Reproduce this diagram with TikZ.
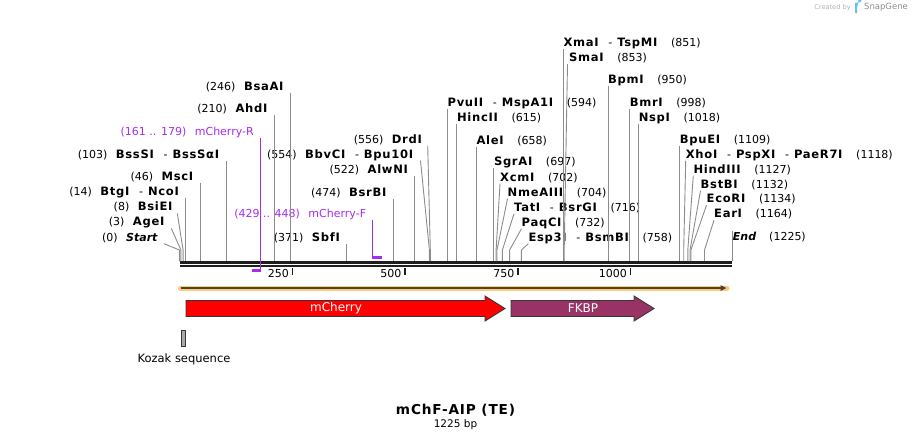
\documentclass[tikz,border=0pt]{standalone}
\usepackage{fontspec}
\setmainfont{DejaVu Sans}[BoldFeatures={Scale=1.05, LetterSpace=6}]
\usetikzlibrary{arrows.meta}
\definecolor{cutgray}{RGB}{140,140,140}
\definecolor{bbcol}{RGB}{30,30,30}
\definecolor{primercol}{RGB}{165,45,235}
\definecolor{orangel}{RGB}{250,202,125}
\definecolor{orangedk}{RGB}{80,66,45}
\definecolor{mchred}{RGB}{255,0,0}
\definecolor{fkbpcol}{RGB}{153,51,102}
\definecolor{featline}{RGB}{55,55,55}
\definecolor{kozakgray}{RGB}{165,170,177}
\definecolor{snapblue}{RGB}{100,195,235}
\newcommand{\dsh}{\hspace{9pt}-\hspace{5pt}}
\newcommand{\nsp}{\hspace{8.5pt}}
\newcommand{\rsp}{\hspace{13pt}}
\tikzset{
  enz/.style={inner sep=0pt, font=\fontsize{11}{13}\selectfont, text height=8.5pt, text depth=2.5pt},
  enzl/.style={enz, anchor=east},
  enzr/.style={enz, anchor=west},
  cutline/.style={draw=cutgray, line width=0.9pt},
  primer/.style={draw=primercol, line width=1.3pt},
  primerbar/.style={draw=primercol, line width=2.6pt},
  tickmark/.style={draw=bbcol, line width=1.5pt},
  ticklbl/.style={inner sep=0pt, anchor=east, font=\fontsize{11}{13}\selectfont},
  feature/.style={draw=featline, line width=0.9pt, line join=miter},
  featlbl/.style={text=white, font=\fontsize{12}{14}\selectfont}
}
\begin{document}
\begin{tikzpicture}[x=1pt, y=-1pt]
  \useasboundingbox (0,0) rectangle (912,440);

  \draw[line width=2.6pt, bbcol] (179.5,262.2) -- (732,262.2);
  \draw[line width=2.2pt, bbcol] (179.5,266.3) -- (732,266.3);

  \draw[tickmark] (292.25,267.5) -- (292.25,275);
  \draw[tickmark] (405,267.5) -- (405,275);
  \draw[tickmark] (517.75,267.5) -- (517.75,275);
  \draw[tickmark] (630.5,267.5) -- (630.5,275);
  \node[ticklbl] (t250) at (289,273.5) {250};
  \node[ticklbl] (t500) at (401.5,273.5) {500};
  \node[ticklbl] (t750) at (514.5,273.5) {750};
  \node[ticklbl] (t1000) at (627,273.5) {1000};

  \coordinate (c0) at (179.5,261);
  \coordinate (c3) at (180.9,261);
  \coordinate (c8) at (183.1,261);
  \coordinate (c14) at (185.8,261);
  \coordinate (c46) at (200.2,261);
  \coordinate (c103) at (226.0,261);
  \coordinate (c210) at (274.2,261);
  \coordinate (c246) at (290.4,261);
  \coordinate (c371) at (346.8,261);
  \coordinate (c474) at (393.3,261);
  \coordinate (c522) at (414.9,261);
  \coordinate (c554) at (429.4,261);
  \coordinate (c556) at (430.3,261);
  \coordinate (c594) at (447.4,261);
  \coordinate (c615) at (456.9,261);
  \coordinate (c658) at (476.3,261);
  \coordinate (c697) at (493.8,261);
  \coordinate (c702) at (496.1,261);
  \coordinate (c704) at (497.0,261);
  \coordinate (c716) at (502.4,261);
  \coordinate (c732) at (509.6,261);
  \coordinate (c758) at (521.4,261);
  \coordinate (c851) at (563.3,261);
  \coordinate (c853) at (564.2,261);
  \coordinate (c950) at (608.0,261);
  \coordinate (c998) at (629.6,261);
  \coordinate (c1018) at (638.6,261);
  \coordinate (c1109) at (679.7,261);
  \coordinate (c1118) at (683.7,261);
  \coordinate (c1127) at (687.8,261);
  \coordinate (c1132) at (690.0,261);
  \coordinate (c1134) at (690.9,261);
  \coordinate (c1164) at (704.5,261);
  \coordinate (c1225) at (732.0,261);

  \node[enzl] (startlbl) at (158,238) {(0)\nsp\textbf{\textit{Start}}};
  \node[enzl] (agei) at (165.3,222.7) {(3)\nsp\textbf{AgeI}};
  \node[enzl] (bsiei) at (173.3,207.7) {(8)\nsp\textbf{BsiEI}};
  \node[enzl] (btgi) at (179.8,192.7) {(14)\nsp\textbf{BtgI}\dsh\textbf{NcoI}};
  \node[enzl] (msci) at (194.2,177.7) {(46)\nsp\textbf{MscI}};
  \node[enzl] (bsssi) at (220,155) {(103)\nsp\textbf{BssSI}\dsh\textbf{BssSαI}};
  \node[enzl, text=primercol] (mchr) at (254,132.5) {(161 .. 179)\nsp mCherry-R};
  \node[enzl] (ahdi) at (268.2,109.5) {(210)\nsp\textbf{AhdI}};
  \node[enzl] (bsaai) at (284.4,87.5) {(246)\nsp\textbf{BsaAI}};
  \node[enzl] (sbfi) at (340.8,238) {(371)\nsp\textbf{SbfI}};
  \node[enzl, text=primercol] (mchf) at (366.3,214.5) {(429 .. 448)\nsp mCherry-F};
  \node[enzl] (bsrbi) at (387.3,193) {(474)\nsp\textbf{BsrBI}};
  \node[enzl] (alwni) at (408.9,170.5) {(522)\nsp\textbf{AlwNI}};
  \node[enzl] (bbvci) at (414,155) {(554)\nsp\textbf{BbvCI}\dsh\textbf{Bpu10I}};
  \node[enzl] (drdi) at (422.7,140) {(556)\nsp\textbf{DrdI}};

  \node[enzr] (pvuii) at (447.4,103.3) {\textbf{PvuII}\dsh\textbf{MspA1I}\rsp(594)};
  \node[enzr] (hincii) at (456.9,118.3) {\textbf{HincII}\rsp(615)};
  \node[enzr] (alei) at (476.3,141) {\textbf{AleI}\rsp(658)};
  \node[enzr] (sgrai) at (493.8,162.7) {\textbf{SgrAI}\rsp(697)};
  \node[enzr] (xcmi) at (500,178) {\textbf{XcmI}\rsp(702)};
  \node[enzr] (nmeaiii) at (507.5,193) {\textbf{NmeAIII}\rsp(704)};
  \node[enzr] (tati) at (514,208) {\textbf{TatI}\dsh\textbf{BsrGI}\rsp(716)};
  \node[enzr] (paqci) at (521.5,223) {\textbf{PaqCI}\rsp(732)};
  \node[enzr] (esp3i) at (528.3,238) {\textbf{Esp3I}\dsh\textbf{BsmBI}\rsp(758)};
  \node[enzr] (xmai) at (563.3,43.3) {\textbf{XmaI}\dsh\textbf{TspMI}\rsp(851)};
  \node[enzr] (smai) at (569,58.3) {\textbf{SmaI}\rsp(853)};
  \node[enzr] (bpmi) at (608,80) {\textbf{BpmI}\rsp(950)};
  \node[enzr] (bmri) at (629.6,103.3) {\textbf{BmrI}\rsp(998)};
  \node[enzr] (nspi) at (638.6,118.3) {\textbf{NspI}\rsp(1018)};
  \node[enzr] (bpuei) at (679.7,140.5) {\textbf{BpuEI}\rsp(1109)};
  \node[enzr] (xhoi) at (685.7,155) {\textbf{XhoI}\dsh\textbf{PspXI}\dsh\textbf{PaeR7I}\rsp(1118)};
  \node[enzr] (hindiii) at (693.3,170) {\textbf{HindIII}\rsp(1127)};
  \node[enzr] (bstbi) at (700.5,185) {\textbf{BstBI}\rsp(1132)};
  \node[enzr] (ecori) at (706.5,199.5) {\textbf{EcoRI}\rsp(1134)};
  \node[enzr] (eari) at (714,214.5) {\textbf{EarI}\rsp(1164)};
  \node[enzr] (endlbl) at (732.7,237) {\textbf{\textit{End}}\rsp(1225)};

  \draw[cutline] ([xshift=6pt]startlbl.south east) -- ([yshift=11pt]c0) -- (c0);
  \draw[cutline] ([xshift=6pt]agei.south east) -- ([yshift=11pt]c3) -- (c3);
  \draw[cutline] ([xshift=4pt]bsiei.south east) -- ([yshift=11pt]c8) -- (c8);
  \draw[cutline] (btgi.south east -| c14) -- (c14);
  \draw[cutline] (msci.south east -| c46) -- (c46);
  \draw[cutline] (bsssi.south east -| c103) -- (c103);
  \draw[cutline] (ahdi.south east -| c210) -- (c210);
  \draw[cutline] (bsaai.south east -| c246) -- (c246);
  \draw[cutline] (sbfi.south east -| c371) -- (c371);
  \draw[cutline] (bsrbi.south east -| c474) -- (c474);
  \draw[cutline] (alwni.south east -| c522) -- (c522);
  \draw[cutline] ([xshift=6.5pt]bbvci.south east) -- ([yshift=11pt]c554) -- (c554);
  \draw[cutline] ([xshift=5pt]drdi.south east) -- ([yshift=11pt]c556) -- (c556);

  \draw[cutline] (pvuii.south west -| c594) -- (c594);
  \draw[cutline] (hincii.south west -| c615) -- (c615);
  \draw[cutline] (alei.south west -| c658) -- (c658);
  \draw[cutline] (sgrai.south west -| c697) -- (c697);
  \draw[cutline] (xcmi.south west) -- ([yshift=11pt]c702) -- (c702);
  \draw[cutline] (nmeaiii.south west) -- ([yshift=11pt]c704) -- (c704);
  \draw[cutline] (tati.south west) -- ([yshift=11pt]c716) -- (c716);
  \draw[cutline] (paqci.south west) -- ([yshift=11pt]c732) -- (c732);
  \draw[cutline] (esp3i.south west) -- ([yshift=11pt]c758) -- (c758);
  \draw[cutline] (xmai.south west -| c851) -- (c851);
  \draw[cutline] ([xshift=-1.5pt]smai.south west) -- ([yshift=11pt]c853) -- (c853);
  \draw[cutline] (bpmi.south west -| c950) -- (c950);
  \draw[cutline] (bmri.south west -| c998) -- (c998);
  \draw[cutline] (nspi.south west -| c1018) -- (c1018);
  \draw[cutline] (bpuei.south west -| c1109) -- (c1109);
  \draw[cutline] (xhoi.south west) -- ([yshift=11pt]c1118) -- (c1118);
  \draw[cutline] (hindiii.south west) -- ([yshift=11pt]c1127) -- (c1127);
  \draw[cutline] (bstbi.south west) -- ([yshift=11pt]c1132) -- (c1132);
  \draw[cutline] (ecori.south west) -- ([yshift=11pt]c1134) -- (c1134);
  \draw[cutline] (eari.south west) -- ([yshift=11pt]c1164) -- (c1164);
  \draw[cutline] (endlbl.north west -| c1225) -- (c1225);

  \coordinate (r161) at (252.1,270.5);
  \coordinate (r179) at (260.7,270.5);
  \coordinate (f429) at (372.6,257.6);
  \coordinate (f448) at (381.5,257.6);
  \draw[primer] (mchr.south east -| r179) -- (r179);
  \draw[primerbar] (r161) -- ([xshift=0.65pt]r179);
  \draw[primer] (mchf.south east -| f429) -- (f429);
  \draw[primerbar] ([xshift=-0.65pt]f429) -- (f448);

  \draw[line width=5pt, orangel, line cap=round] (180.5,288) -- (727,288);
  \draw[line width=1.6pt, orangedk, -{Triangle[length=6pt,width=5.5pt]}] (180.5,288) -- (726.5,288);

  \draw[feature, fill=mchred] (186,300.5) -- (485,300.5) -- (485,296) -- (505,308.5) -- (485,321) -- (485,316.5) -- (186,316.5) -- cycle;
  \node[featlbl] (mcherry) at (336,308.5) {mCherry};
  \draw[feature, fill=fkbpcol] (511,300.5) -- (634,300.5) -- (634,296) -- (654,308.5) -- (634,321) -- (634,316.5) -- (511,316.5) -- cycle;
  \node[featlbl] (fkbp) at (583,308.5) {FKBP};

  \draw[draw=featline, line width=0.8pt, fill=kozakgray] (181,330) rectangle (185.5,346);
  \node[font=\fontsize{11.5}{13}\selectfont] (kozak) at (184,359) {Kozak sequence};

  \node[font=\bfseries\fontsize{13}{16}\selectfont] (title) at (455.5,410) {mChF-AIP (TE)};
  \node[font=\fontsize{10.5}{12}\selectfont] (len) at (455.5,424.5) {1225 bp};

  \node[text=black!30, font=\fontsize{6.6}{8}\selectfont] (created) at (832.5,7.5) {Created by};
  \fill[snapblue] (855,2.5) rectangle (857.2,13) (857.2,2.5) -- (859,2.5) arc (90:-90:2.6) -- (857.2,7.7) -- cycle;
  \node[text=black!45, font=\fontsize{8.5}{10}\selectfont] (snapgene) at (886,7.5) {SnapGene};
\end{tikzpicture}
\end{document}
